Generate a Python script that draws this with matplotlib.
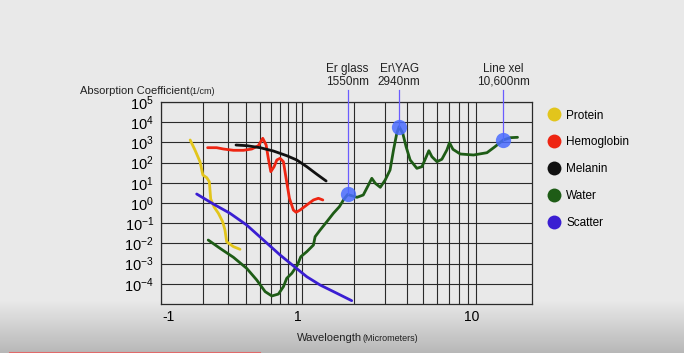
import numpy as np
import matplotlib
matplotlib.use("Agg")
import matplotlib.pyplot as plt
import matplotlib.transforms as mtransforms
from matplotlib.lines import Line2D

plt.rcParams['font.family'] = ['Liberation Sans', 'DejaVu Sans']
plt.rcParams['mathtext.fontset'] = 'custom'
plt.rcParams['mathtext.rm'] = 'Liberation Sans'
plt.rcParams['mathtext.it'] = 'Liberation Sans'

# wavelength (micrometers) / absorption coefficient (1/cm)
protein_x = [0.161, 0.174, 0.189, 0.198, 0.211, 0.220, 0.225, 0.238, 0.255, 0.273, 0.284, 0.292, 0.326, 0.363]
protein_y = [1315, 421, 111, 24.3, 17.9, 11.3, 1.58, 0.63, 0.31, 0.121, 0.046, 0.012, 0.0069, 0.0051]

hemo_x = [0.214, 0.248, 0.277, 0.326, 0.384, 0.440, 0.490, 0.526, 0.556, 0.576, 0.600, 0.633,
          0.662, 0.698, 0.737, 0.770, 0.813, 0.867, 0.906, 0.968, 1.064, 1.162, 1.241, 1.316]
hemo_y = [547, 547, 471, 406, 406, 471, 687, 1597, 743, 163, 35.5, 62.7,
          135, 163, 111, 16.7, 1.71, 0.45, 0.347, 0.45, 0.80, 1.41, 1.71, 1.41]

melanin_x = [0.340, 0.406, 0.504, 0.626, 0.778, 0.916, 1.064, 1.216, 1.375]
melanin_y = [743, 687, 547, 375, 220, 135, 62.7, 26.4, 12.3]

water_x = [0.216, 0.262, 0.326, 0.405, 0.477, 0.547, 0.610, 0.679, 0.737, 0.778, 0.845, 0.926,
           0.979, 1.064, 1.162, 1.188, 1.27, 1.388, 1.514, 1.64, 1.73, 1.83, 2.07, 2.25,
           2.41, 2.52, 2.64, 2.82, 3.01, 3.21, 3.36, 3.51, 3.62, 3.80, 3.97, 4.19,
           4.58, 4.90, 5.19, 5.37, 5.59, 5.98, 6.38, 6.82, 7.06, 7.39, 8.14, 9.71,
           11.6, 12.9, 14.4, 15.8, 17.4]
water_y = [0.0147, 0.0057, 0.00205, 5.8e-4, 1.54e-4, 4.1e-5, 2.5e-5, 3.1e-5, 7.2e-5, 1.87e-4, 3.3e-4, 8.5e-4,
           0.0022, 0.0039, 0.0083, 0.0215, 0.046, 0.119, 0.31, 0.66, 1.41, 2.64, 1.91, 2.49,
           7.8, 16.7, 9.4, 6.0, 13.8, 43, 421, 2820, 5980, 2820, 612, 135,
           52, 63, 196, 388, 196, 111, 146, 421, 966, 455, 267, 238,
           309, 612, 1315, 1710, 1787]

scatter_x = [0.179, 0.235, 0.308, 0.405, 0.532, 0.698, 0.892, 1.064, 1.27, 1.585, 1.93]
scatter_y = [2.79, 0.89, 0.31, 0.081, 0.0147, 0.00267, 6.6e-4, 2.24e-4, 8.7e-5, 3.4e-5, 1.46e-5]

lasers = ["Er glass\n1550nm", "Er\\YAG\n2940nm", "Line xel\n10,600nm"]
laser_x = [1.83, 3.62, 14.4]
laser_y = [2.64, 5980, 1315]

names = ["Protein", "Hemoglobin", "Melanin", "Water", "Scatter"]
colors = ["#e2c51c", "#ee2512", "#111111", "#1e5c16", "#3a1ed2"]

# the lower decade of the drawn axis is squeezed
k = 141 / 173.5


def fwd(x):
    l = np.log10(np.clip(np.asarray(x, float), 1e-300, None))
    return np.where(l < 0, l * k, l)


def inv(y):
    y = np.asarray(y, float)
    return np.where(y < 0, 10 ** (y / k), 10 ** y)


fig = plt.figure(figsize=(6.84, 3.53), dpi=100)
fig.patch.set_facecolor("#e9e9e9")

# background shading
bg = fig.add_axes([0, 0, 1, 1], zorder=-10)
grad = np.concatenate([np.full(300, 0.915), np.linspace(0.915, 0.72, 53)])
bg.imshow(grad[:, None, None] * np.ones((1, 10, 3)), aspect="auto", extent=[0, 1, 0, 1])
bg.plot([10 / 684, 260 / 684], [0.5 / 353, 0.5 / 353], color="#e06a6a", lw=1.5)
bg.set_xlim(0, 1)
bg.set_ylim(0, 1)
bg.axis("off")

ax = fig.add_axes([161 / 684, 1 - 304 / 353, 370.7 / 684, 202 / 353])
ax.set_facecolor("none")
ax.set_xscale("function", functions=(fwd, inv))
ax.set_yscale("log")
ax.set_xlim(0.1, 21)
ax.set_ylim(1e-5, 1e5)

ax.set_xticks([0.1, 1, 10])
ax.set_xticklabels(["-1", "1", "10"], fontsize=10)
minor = [0.2, 0.3, 0.4, 0.5, 0.6, 0.7, 0.8, 0.9, 2, 3, 4, 5, 6, 7, 8, 9]
ax.set_xticks(minor, minor=True)
ax.set_xticklabels([], minor=True)
yt = [10.0 ** e for e in range(-4, 6)]
ax.set_yticks(yt)
ax.set_yticklabels(["$10^{%d}$" % e for e in range(-4, 6)], fontsize=10.5)
ax.yaxis.set_minor_locator(matplotlib.ticker.NullLocator())
ax.tick_params(which="both", length=0, pad=5)
ax.tick_params(axis="x", pad=4)
ax.grid(True, which="both", color="#2a2a2a", lw=0.8)
for s in ax.spines.values():
    s.set_color("#2a2a2a")
    s.set_linewidth(0.9)

# x tick labels sit a little off their lines in the original
shifts = [7, -4, -4]
for lab, dx in zip(ax.get_xticklabels(), shifts):
    lab.set_transform(lab.get_transform() + mtransforms.ScaledTranslation(dx / 100, 0, fig.dpi_scale_trans))

series = [(protein_x, protein_y), (hemo_x, hemo_y), (melanin_x, melanin_y),
          (water_x, water_y), (scatter_x, scatter_y)]
for (xs, ys), c in zip(series, colors):
    ax.plot(xs, ys, color=c, lw=2.0, solid_joinstyle="round", solid_capstyle="round", zorder=3)

for lab, lx, ly in zip(lasers, laser_x, laser_y):
    ax.plot([lx, lx], [ly, 3.9e5], color="#6a5cff", lw=0.9, clip_on=False, zorder=4)
    ax.plot(lx, ly, "o", ms=11, color="#4a6cff", alpha=0.85, mec="none", clip_on=False, zorder=5)
    ax.text(lx, 2.1e6, lab, ha="center", va="center", fontsize=8.5, linespacing=1.15,
            color="#222222")

fig.text(80 / 684, 1 - 94 / 353, "Absorption Coefficient", fontsize=8, va="baseline", color="#222222")
fig.text(189 / 684, 1 - 94 / 353, "(1/cm)", fontsize=6.5, va="baseline", color="#222222")
fig.text(297 / 684, 1 - 341 / 353, "Waveloength", fontsize=8, va="baseline", color="#222222")
fig.text(362 / 684, 1 - 341 / 353, "(Micrometers)", fontsize=6.5, va="baseline", color="#222222")

handles = [Line2D([], [], ls="none", marker="o", ms=10, color=c, mec="none") for c in colors]
fig.legend(handles, names, loc="upper left", bbox_to_anchor=(536 / 684, 1 - 99 / 353),
           frameon=False, fontsize=8.5, labelspacing=1.25, handletextpad=0.45, handlelength=1.2)

fig.savefig("out.png", dpi=100)
